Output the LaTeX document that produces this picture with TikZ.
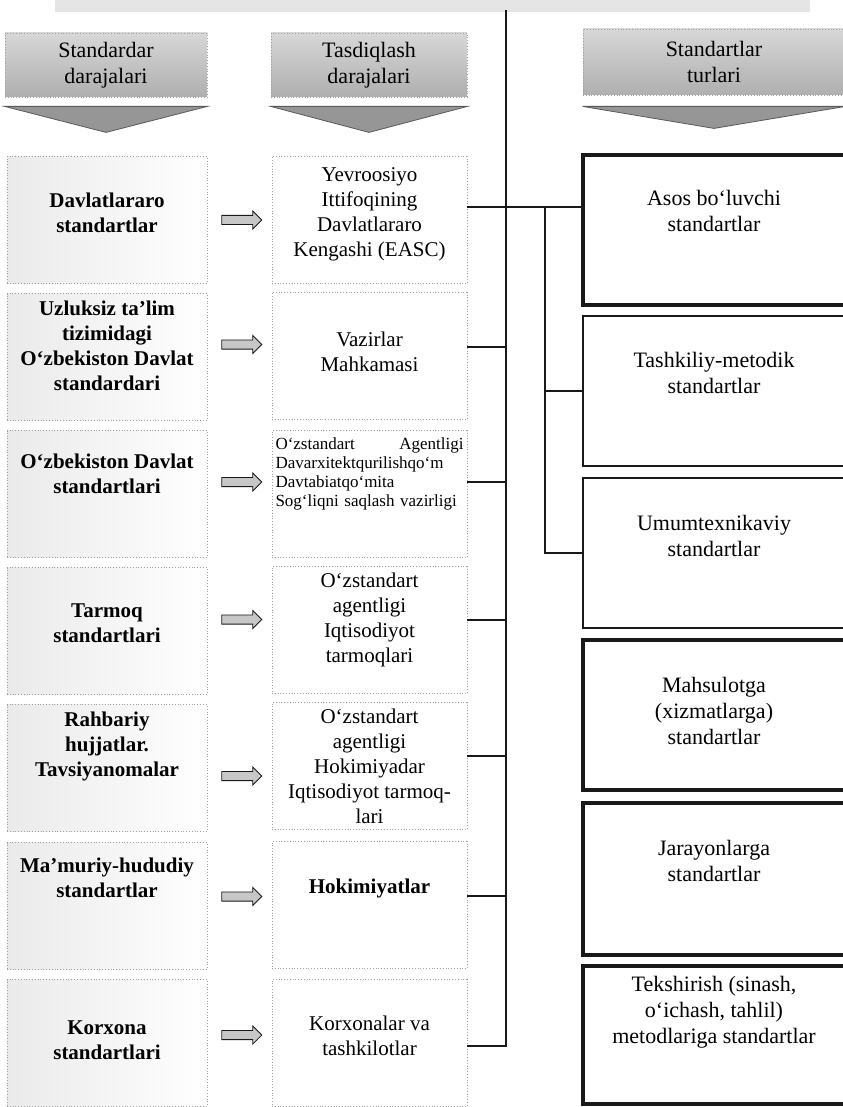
\documentclass[tikz,border=0pt]{standalone}
\usepackage{fontspec}
\setmainfont{Liberation Serif}
\usetikzlibrary{shapes.arrows, positioning, calc}
\definecolor{headgray}{RGB}{175,175,175}
\definecolor{chevgray}{RGB}{150,150,150}
\definecolor{levelgray}{RGB}{234,234,234}
\definecolor{dotgray}{RGB}{160,160,160}
\definecolor{linkblack}{RGB}{25,25,25}

\begin{document}
\begin{tikzpicture}[
  x=0.5pt, y=-0.5pt,
  font=\fontsize{10.5}{12.5}\selectfont,
  header/.style={draw=dotgray, densely dotted, top color=headgray!50, bottom color=headgray,
    align=center, minimum height=32pt, inner sep=2pt, font=\fontsize{11}{13}\selectfont},
  chev/.style={fill=chevgray, draw=chevgray!60!black, thin},
  levelbox/.style={draw=dotgray, densely dotted, left color=levelgray, right color=white,
    minimum width=100pt, minimum height=63.5pt},
  apprbox/.style={draw=dotgray, densely dotted, fill=white,
    minimum width=97.5pt, minimum height=63.5pt},
  typebox/.style={draw=linkblack, line width=0.6pt, minimum width=131pt, minimum height=75pt},
  heavy/.style={line width=1.6pt},
  lvltext/.style={align=center, font=\fontsize{10.5}{12.5}\selectfont\bfseries},
  apptext/.style={align=center},
  typetext/.style={align=center, font=\fontsize{11}{13}\selectfont},
  blk/.style={single arrow, draw=linkblack, fill=headgray!70, thin, minimum height=20pt,
    minimum width=8.5pt, single arrow head extend=2.2pt, inner sep=2.1pt},
  link/.style={draw=linkblack, line width=1pt}
]
  \useasboundingbox (0,0) rectangle (842,1107);
  \fill[headgray!32] (55,0) rectangle (810,12);

  % column headers
  \node[header, minimum width=101pt] (h1) at (106,65) {Standardar\\darajalari};
  \node[header, minimum width=98pt] (h2) at (369,65) {Tasdiqlash\\darajalari};
  \node[header, minimum width=131pt, minimum height=33pt] (h3) at (714,62) {Standartlar\\turlari};
  \fill[chev] ([yshift=-4.5pt]h1.south west) -- ([yshift=-4.5pt]h1.south east) -- ([yshift=-17.5pt]h1.south) -- cycle;
  \fill[chev] ([yshift=-4.5pt]h2.south west) -- ([yshift=-4.5pt]h2.south east) -- ([yshift=-17.5pt]h2.south) -- cycle;
  \fill[chev] ([yshift=-5.5pt]h3.south west) -- ([yshift=-5.5pt]h3.south east) -- ([yshift=-16.5pt]h3.south) -- cycle;

  % levels of standards
  \node[levelbox] (l1) at (107,220) {};
  \node[levelbox] (l2) at (107,357) {};
  \node[levelbox] (l3) at (107,494) {};
  \node[levelbox] (l4) at (107,631) {};
  \node[levelbox] (l5) at (107,768) {};
  \node[levelbox] (l6) at (107,906) {};
  \node[levelbox] (l7) at (107,1043) {};
  \node[lvltext] (l1t) at ([yshift=3.5pt]l1.center) {Davlatlararo\\standartlar};
  \node[lvltext] (l2t) at ([yshift=5.5pt]l2.center) {Uzluksiz ta’lim\\tizimidagi\\O‘zbekiston Davlat\\standardari};
  \node[lvltext] (l3t) at ([yshift=10pt]l3.center) {O‘zbekiston Davlat\\standartlari};
  \node[lvltext] (l4t) at ([yshift=4pt]l4.center) {Tarmoq\\standartlari};
  \node[lvltext] (l5t) at ([yshift=11pt]l5.center) {Rahbariy\\hujjatlar.\\Tavsiyanomalar};
  \node[lvltext] (l6t) at ([yshift=14pt]l6.center) {Ma’muriy-hududiy\\standartlar};
  \node[lvltext] (l7t) at ([yshift=1.5pt]l7.center) {Korxona\\standartlari};

  % approving bodies
  \node[apprbox] (m1) at (369.5,220) {};
  \node[apprbox] (m2) at (369.5,356) {};
  \node[apprbox] (m3) at (369.5,494) {};
  \node[apprbox] (m4) at (369.5,630) {};
  \node[apprbox] (m5) at (369.5,766) {};
  \node[apprbox] (m6) at (369.5,905) {};
  \node[apprbox] (m7) at (369.5,1043) {};
  \node[apptext] (m1t) at ([yshift=3pt]m1.center) {Yevroosiyo\\Ittifoqining\\Davlatlararo\\Kengashi (EASC)};
  \node[apptext] (m2t) at ([yshift=2pt]m2.center) {Vazirlar\\Mahkamasi};
  \node[align=left, text width=94pt, inner sep=0pt, font=\fontsize{8.5}{9.5}\selectfont] (m3t)
    at ([yshift=10pt]m3.center) {O‘zstandart\hfill Agentligi\\Davarxitektqurilishqo‘m\\Davtabiatqo‘mita\\Sog‘liqni saqlash vazirligi};
  \node[apptext] (m4t) at ([yshift=5pt]m4.center) {O‘zstandart\\agentligi\\Iqtisodiyot\\tarmoqlari};
  \node[apptext] (m5t) at (m5.center) {O‘zstandart\\agentligi\\Hokimiyadar\\Iqtisodiyot tarmoq-\\lari};
  \node[apptext, font=\fontsize{10.5}{12.5}\selectfont\bfseries] (m6t) at ([yshift=8.5pt]m6.center) {Hokimiyatlar};
  \node[apptext] (m7t) at ([yshift=3.5pt]m7.center) {Korxonalar va\\tashkilotlar};

  % level -> body arrows
  \node[blk] (a1) at ($(l1.east)!.5!(m1.west)$) {};
  \node[blk] (a2) at ($(l2.east)!.5!(m2.west)+(0,-12)$) {};
  \node[blk] (a3) at ($(l3.east)!.5!(m3.west)+(0,-12)$) {};
  \node[blk] (a4) at ($(l4.east)!.5!(m4.west)+(0,-11)$) {};
  \node[blk] (a5) at ($(l5.east)!.5!(m5.west)+(0,9)$) {};
  \node[blk] (a6) at ($(l6.east)!.5!(m6.west)+(0,-9)$) {};
  \node[blk] (a7) at ($(l7.east)!.5!(m7.west)+(0,-8)$) {};

  % kinds of standards
  \node[typebox, heavy] (r1) at (714,230) {};
  \node[typebox] (r2) at (714,391) {};
  \node[typebox] (r3) at (714,553) {};
  \node[typebox, heavy] (r4) at (714,715) {};
  \node[typebox, heavy, minimum height=76pt] (r5) at (714,879) {};
  \node[typebox, heavy, minimum height=69pt] (r6) at (714,1035) {};
  \node[typetext] (r1t) at ([yshift=9.5pt]r1.center) {Asos bo‘luvchi\\standartlar};
  \node[typetext] (r2t) at ([yshift=9pt]r2.center) {Tashkiliy-metodik\\standartlar};
  \node[typetext] (r3t) at ([yshift=8.5pt]r3.center) {Umumtexnikaviy\\standartlar};
  \node[typetext] (r4t) at ([yshift=2pt]r4.center) {Mahsulotga\\(xizmatlarga)\\standartlar};
  \node[typetext] (r5t) at ([yshift=9pt]r5.center) {Jarayonlarga\\standartlar};
  \node[typetext] (r6t) at ([yshift=11.5pt]r6.center) {Tekshirish (sinash,\\o‘ichash, tahlil)\\metodlariga standartlar};

  % trunk and branches
  \coordinate (top) at (506,10);
  \coordinate (sub) at (545,207);
  \draw[link, line width=1.4pt] (top) |- ([yshift=-1.5pt]m7.east);
  \draw[link] ([yshift=6.5pt]m1.east) coordinate (j1) -- (j1 -| r1.west);
  \draw[link] ([yshift=4.5pt]m2.east) coordinate (j2) -- (j2 -| top);
  \draw[link] ([yshift=6pt]m3.east) coordinate (j3) -- (j3 -| top);
  \draw[link] ([yshift=5pt]m4.east) coordinate (j4) -- (j4 -| top);
  \draw[link] ([yshift=5pt]m5.east) coordinate (j5) -- (j5 -| top);
  \draw[link] ([yshift=4.5pt]m6.east) coordinate (j6) -- (j6 -| top);
  \draw[link] (sub) |- (r2.west);
  \draw[link] (sub) |- (r3.west);
\end{tikzpicture}
\end{document}
